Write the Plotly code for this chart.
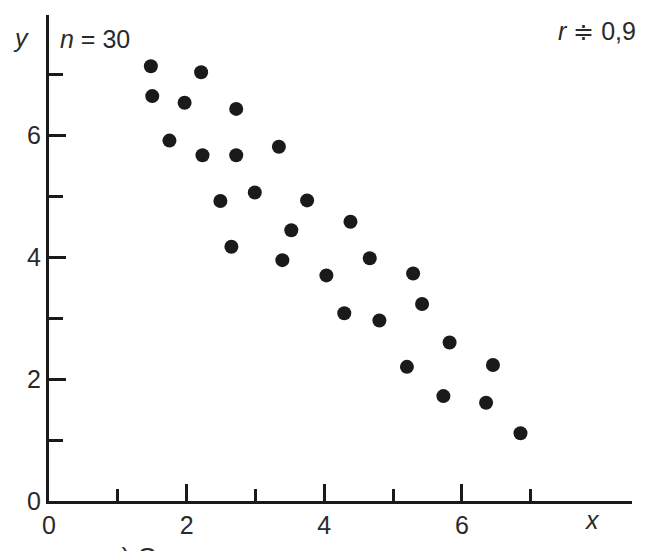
import plotly.graph_objects as go

# Data
x_vals = [1.48, 2.21, 1.50, 1.97, 2.72, 1.75, 2.23, 2.72, 3.34, 2.49, 2.99, 3.75,
          3.52, 2.65, 3.39, 4.38, 4.03, 4.66, 5.29, 4.29, 4.80, 5.42, 5.82, 5.20,
          6.45, 5.73, 6.35, 6.85]
y_vals = [7.13, 7.03, 6.64, 6.53, 6.43, 5.91, 5.67, 5.67, 5.81, 4.92, 5.06, 4.93,
          4.44, 4.17, 3.95, 4.58, 3.70, 3.98, 3.73, 3.08, 2.96, 3.23, 2.60, 2.20,
          2.23, 1.72, 1.61, 1.11]
major_ticks = [0, 2, 4, 6]
minor_ticks = [1, 3, 5, 7]
tick_labels = ["0", "2", "4", "6"]
n_label = "<i>n</i> = 30"
r_label = "<i>r</i> ≑ 0,9"
caption = "а) Сильная отрицательная корреляция"

ink = "#1a1a1a"
text_col = "#2a2a2a"
font_family = "Liberation Sans, Arial, sans-serif"
x_range = [0, 8.47]
y_range = [0, 7.97]

fig = go.Figure()
fig.add_trace(go.Scatter(
    x=x_vals, y=y_vals, mode="markers",
    marker=dict(size=14, color=ink, line=dict(width=0)),
    showlegend=False, hoverinfo="skip"))
# invisible traces that carry the overlaid tick axes
for xa, ya in (("x2", "y2"), ("x3", "y3")):
    fig.add_trace(go.Scatter(
        x=[x_vals[0]], y=[y_vals[0]], xaxis=xa, yaxis=ya, mode="markers",
        marker=dict(size=1, opacity=0), showlegend=False, hoverinfo="skip"))

base = dict(showgrid=False, zeroline=False, automargin=False, fixedrange=True)


def tick_axis(rng, over, side, vals, length):
    return dict(**base, range=rng, overlaying=over, side=side, showline=False,
                ticks="inside", ticklen=length, tickwidth=3, tickcolor=ink,
                tickmode="array", tickvals=vals, showticklabels=False)


# tick marks at the origin lie on the other axis line, so only non-zero ones are drawn
major_marks = [v for v in major_ticks if v != 0]
all_marks = sorted(major_marks + minor_ticks)

fig.update_layout(
    xaxis=dict(**base, range=x_range, showline=True, linecolor=ink, linewidth=3,
               ticks="", tickmode="array", tickvals=major_ticks, ticktext=tick_labels,
               tickfont=dict(family=font_family, size=25, color=text_col)),
    yaxis=dict(**base, range=y_range, showline=True, linecolor=ink, linewidth=3,
               ticks="", tickmode="array", tickvals=major_ticks, ticktext=tick_labels,
               tickfont=dict(family=font_family, size=25, color=text_col)),
    xaxis2=tick_axis(x_range, "x", "bottom", all_marks, 12),
    yaxis2=tick_axis(y_range, "y", "left", all_marks, 14),
    xaxis3=tick_axis(x_range, "x", "bottom", major_marks, 17),
    yaxis3=tick_axis(y_range, "y", "left", major_marks, 17),
)

ann_font = dict(family=font_family, size=25, color=text_col)
fig.add_annotation(text="<i>y</i>", xref="paper", yref="paper", x=-0.048, y=0.952,
                   xanchor="center", yanchor="middle", showarrow=False, font=ann_font)
fig.add_annotation(text=n_label, xref="paper", yref="paper", x=0.015, y=0.950,
                   xanchor="left", yanchor="middle", showarrow=False, font=ann_font)
fig.add_annotation(text=r_label, xref="paper", yref="paper", x=1.010, y=0.967,
                   xanchor="right", yanchor="middle", showarrow=False, font=ann_font)
fig.add_annotation(text="<i>x</i>", xref="paper", yref="paper", x=0.933, y=-0.039,
                   xanchor="center", yanchor="middle", showarrow=False, font=ann_font)
fig.add_annotation(text=caption, xref="paper", yref="paper", x=0.503, y=-0.080,
                   xanchor="center", yanchor="top", showarrow=False,
                   font=dict(family=font_family, size=26, color=text_col))

fig.update_layout(
    width=645, height=551,
    margin=dict(l=49, r=13, t=15, b=50),
    paper_bgcolor="white", plot_bgcolor="white",
)

fig.write_html(
    "out.html",
    config={"displayModeBar": False, "staticPlot": True},
    post_script="document.body.style.margin='0';document.body.style.overflow='hidden';",
)
